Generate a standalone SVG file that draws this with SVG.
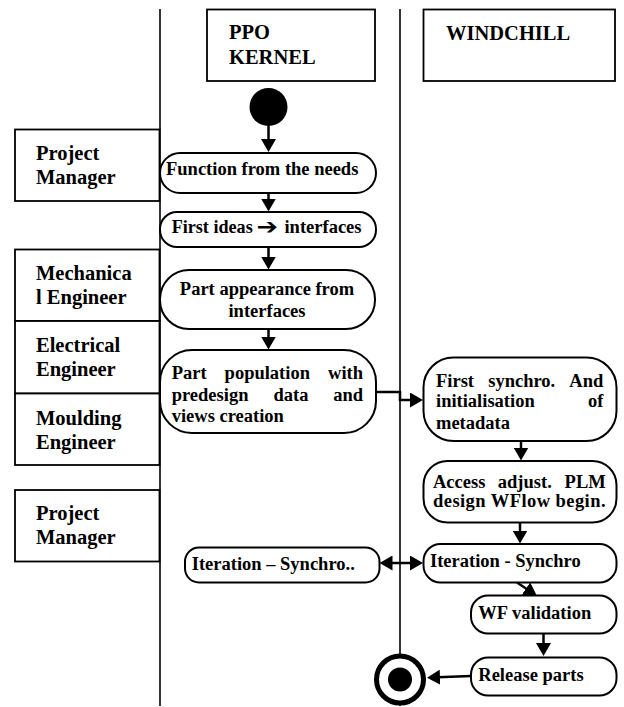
<svg xmlns="http://www.w3.org/2000/svg" width="624" height="707" viewBox="0 0 624 707">
<style>
.lane{stroke:#000;stroke-width:1.6;fill:none}
.box{fill:#fff;stroke:#000;stroke-width:1.8}
.node{fill:#fff;stroke:#000;stroke-width:2}
.hd{font-family:"Liberation Serif","Times New Roman",serif;font-weight:bold;font-size:20.5px;fill:#000}
.tx{font-family:"Liberation Serif","Times New Roman","DejaVu Sans",serif;font-weight:bold;font-size:18.5px;fill:#000}
.sym{font-family:"DejaVu Sans",sans-serif;font-weight:bold;font-size:22px;fill:#000}
.con{stroke:#000;stroke-width:2.5;fill:none}
</style>
<defs>
<marker id="ah" viewBox="0 0 13 15" refX="9" refY="7.5" markerWidth="13" markerHeight="15" markerUnits="userSpaceOnUse" orient="auto-start-reverse">
<path d="M0,0 L13,7.5 L0,15 z" fill="#000"/>
</marker>
</defs>
<rect width="624" height="707" fill="#fff"/>
<g id="lanes">
<line class="lane" x1="160" y1="9" x2="160" y2="706"/>
<line class="lane" x1="400" y1="9" x2="400" y2="706"/>
</g>
<g id="hdr-ppo">
<rect class="box" x="207" y="9.5" width="168" height="71.5"/>
<text class="hd" x="229" y="39">PPO</text>
<text class="hd" x="229" y="64">KERNEL</text>
</g>
<g id="hdr-windchill">
<rect class="box" x="423.5" y="9.5" width="191.5" height="71.5"/>
<text class="hd" x="446" y="40">WINDCHILL</text>
</g>
<g id="role-pm1">
<rect class="box" x="15" y="129.5" width="144.5" height="71.5"/>
<text class="hd" x="36" y="159.5">Project</text>
<text class="hd" x="36" y="183.5">Manager</text>
</g>
<g id="role-mech">
<rect class="box" x="15" y="249.5" width="144.5" height="71.5"/>
<text class="hd" x="36" y="280">Mechanica</text>
<text class="hd" x="36" y="303.5">l Engineer</text>
</g>
<g id="role-elec">
<rect class="box" x="15" y="321" width="144.5" height="72.5"/>
<text class="hd" x="36" y="352">Electrical</text>
<text class="hd" x="36" y="376">Engineer</text>
</g>
<g id="role-mould">
<rect class="box" x="15" y="393.5" width="144.5" height="71.5"/>
<text class="hd" x="36" y="425">Moulding</text>
<text class="hd" x="36" y="449">Engineer</text>
</g>
<g id="role-pm2">
<rect class="box" x="15" y="490" width="144.5" height="71.5"/>
<text class="hd" x="36" y="520">Project</text>
<text class="hd" x="36" y="544">Manager</text>
</g>
<g id="start">
<circle cx="268.5" cy="107" r="19" fill="#000"/>
</g>
<g id="n-function">
<rect class="node" x="160" y="153" width="216" height="40" rx="20"/>
<text class="tx" x="166" y="175">Function from the needs</text>
</g>
<g id="n-ideas">
<rect class="node" x="160" y="212" width="216" height="35" rx="17"/>
<text class="tx" x="171.7" y="233" textLength="81" lengthAdjust="spacingAndGlyphs">First ideas</text>
<text class="sym" x="256.5" y="234" textLength="21.5" lengthAdjust="spacingAndGlyphs">➔</text>
<text class="tx" x="361.5" y="233" text-anchor="end">interfaces</text>
</g>
<g id="n-appearance">
<rect class="node" x="160" y="270" width="215" height="59" rx="29"/>
<text class="tx" x="267" y="295" text-anchor="middle">Part appearance from</text>
<text class="tx" x="267" y="317" text-anchor="middle">interfaces</text>
</g>
<g id="n-population">
<rect class="node" x="160" y="350" width="216" height="83" rx="32"/>
<text class="tx" x="171.7" y="379">Part</text>
<text class="tx" x="267.3" y="379" text-anchor="middle">population</text>
<text class="tx" x="363" y="379" text-anchor="end">with</text>
<text class="tx" x="171.7" y="400.5">predesign</text>
<text class="tx" x="291" y="400.5" text-anchor="middle">data</text>
<text class="tx" x="363" y="400.5" text-anchor="end">and</text>
<text class="tx" x="171.7" y="421.5">views creation</text>
</g>
<g id="n-firstsync">
<rect class="node" x="423.5" y="357.5" width="193" height="83.5" rx="30"/>
<text class="tx" x="436" y="387">First</text>
<text class="tx" x="521.7" y="387" text-anchor="middle">synchro.</text>
<text class="tx" x="603.3" y="387" text-anchor="end">And</text>
<text class="tx" x="436" y="407">initialisation</text>
<text class="tx" x="603.3" y="407" text-anchor="end">of</text>
<text class="tx" x="436" y="429">metadata</text>
</g>
<g id="n-access">
<rect class="node" x="423.5" y="461" width="193" height="61.5" rx="24"/>
<text class="tx" x="433" y="487.5">Access</text>
<text class="tx" x="524.8" y="487.5" text-anchor="middle">adjust.</text>
<text class="tx" x="605.7" y="487.5" text-anchor="end">PLM</text>
<text class="tx" x="433" y="507" textLength="172.5" lengthAdjust="spacing">design WFlow begin.</text>
</g>
<g id="n-iter-left">
<rect class="node" x="185" y="547.5" width="194.5" height="35" rx="14"/>
<text class="tx" x="191.7" y="570">Iteration – Synchro..</text>
</g>
<g id="n-iter">
<rect class="node" x="423.5" y="544" width="193" height="38.5" rx="17"/>
<text class="tx" x="430" y="567">Iteration - Synchro</text>
</g>
<g id="n-wf">
<rect class="node" x="471" y="595.5" width="145.5" height="38" rx="17"/>
<text class="tx" x="478.3" y="618.5">WF validation</text>
</g>
<g id="n-release">
<rect class="node" x="471" y="657.5" width="145.5" height="38" rx="17"/>
<text class="tx" x="478.3" y="680.5">Release parts</text>
</g>
<g id="end">
<circle cx="400" cy="679.5" r="23.5" fill="#fff" stroke="#000" stroke-width="5"/>
<circle cx="400" cy="679.5" r="12" fill="#000"/>
</g>
<g id="connectors">
<line class="con" x1="268.5" y1="126" x2="268.5" y2="148" marker-end="url(#ah)"/>
<line class="con" x1="268.5" y1="193" x2="268.5" y2="207.5" marker-end="url(#ah)"/>
<line class="con" x1="268.5" y1="247" x2="268.5" y2="265.5" marker-end="url(#ah)"/>
<line class="con" x1="268.5" y1="329" x2="268.5" y2="345.5" marker-end="url(#ah)"/>
<polyline class="con" points="376,392 400,392 400,400 419,400" marker-end="url(#ah)"/>
<line class="con" x1="521" y1="441" x2="521" y2="456.5" marker-end="url(#ah)"/>
<line class="con" x1="520" y1="522.5" x2="520" y2="539.5" marker-end="url(#ah)"/>
<line class="con" x1="383.5" y1="563" x2="419" y2="563" marker-start="url(#ah)" marker-end="url(#ah)"/>
<line class="con" x1="517" y1="582.5" x2="533.5" y2="593.5" marker-end="url(#ah)"/>
<line class="con" x1="543.5" y1="633.5" x2="543.5" y2="652" marker-end="url(#ah)"/>
<line class="con" x1="471" y1="676" x2="431" y2="677.5" marker-end="url(#ah)"/>
</g>
</svg>
